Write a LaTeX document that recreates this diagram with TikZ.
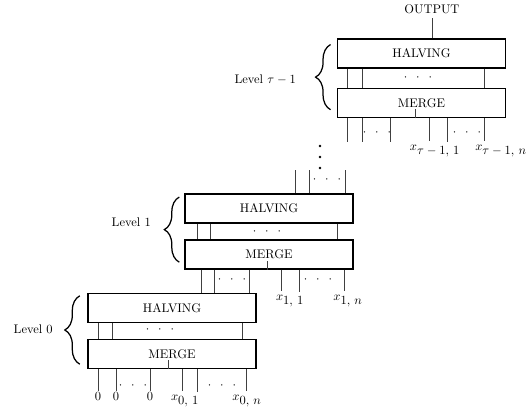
\documentclass[tikz,border=0pt]{standalone}
\usetikzlibrary{positioning, decorations.pathreplacing}

\newcommand{\sdots}{$\cdotp\hspace{5.5pt}\cdotp\hspace{5.5pt}\cdotp$}
\newcommand{\wsub}[1]{$x_{\textstyle #1}$}

\begin{document}
\begin{tikzpicture}[
    x=0.8pt, y=-0.8pt,
    block/.style={rectangle, draw=black, line width=1.1pt, fill=none,
        minimum width=134.4pt, minimum height=23.2pt, inner sep=0pt,
        text centered, text=black},
    wire/.style={draw=black!75, line width=0.45pt},
    hdots/.style={inner sep=0pt, text=black},
    wirelabel/.style={anchor=north, inner sep=1pt, text height=1.5ex, text depth=0.5ex},
    lvlname/.style={anchor=east, inner sep=0pt, text=black},
    lvlbrace/.style={decorate, decoration={brace, amplitude=12pt}, line width=1pt}
]
\useasboundingbox (0,0) rectangle (530,412);

% Level tau-1
\node (HalvT) [block] at (421.5,53.5) {HALVING};
\node (MergeT) [block, below=15.5pt of HalvT] {MERGE};
\node (Out) at (432,9) {OUTPUT};
\draw[wire] (HalvT.north -| Out) -- (Out.south);
\foreach \wx in {347,362,484}
    \draw[wire] (HalvT.south -| \wx,0) -- (MergeT.north -| \wx,0);
\node (DmT) [hdots] at (418,78) {\sdots};
\draw[wire] (MergeT.south -| 415,0) -- ++(0,-9);
\node (LvlT) [lvlname] at (296,80) {Level $\tau - 1$};
\draw[lvlbrace] ([xshift=-5pt, yshift=7pt]MergeT.south west)
    -- ([xshift=-5pt, yshift=-5pt]HalvT.north west);
% outputs of level tau-1
\coordinate (EndT) at (0,142);
\node (XT1) [wirelabel] at (435,141) {\wsub{\tau-1,\,1}};
\node (XTn) [wirelabel] at (501,141) {\wsub{\tau-1,\,n}};
\foreach \wx in {347,362,390,447}
    \draw[wire] (MergeT.south -| \wx,0) -- (EndT -| \wx,0);
\draw[wire] (MergeT.south -| 429,0) -- (XT1.north -| 429,0);
\draw[wire] (MergeT.south -| 484,0) -- (XTn.north -| 484,0);
\node (DoT1) [hdots] at (377,133) {\sdots};
\node (DoT2) [hdots] at (467,133) {\sdots};

% vertical dots
\foreach \vy in {146,157,168}
    \fill (320,\vy) circle [radius=1.1pt];

% Level 1
\node (Halv1) [block] at (269,208.5) {HALVING};
\node (Merge1) [block, below=12.5pt of Halv1] {MERGE};
\coordinate (Top1) at (0,170);
\foreach \wx in {295,309,345}
    \draw[wire] (Top1 -| \wx,0) -- (Halv1.north -| \wx,0);
\node (Di1) [hdots] at (327,180) {\sdots};
\foreach \wx in {197,210,337}
    \draw[wire] (Halv1.south -| \wx,0) -- (Merge1.north -| \wx,0);
\node (Dm1) [hdots] at (267,232) {\sdots};
\draw[wire] (Merge1.south -| 267,0) -- ++(0,-9);
\node (Lvl1) [lvlname] at (151,222) {Level 1};
\draw[lvlbrace] ([xshift=-4pt, yshift=6pt]Merge1.south west)
    -- ([xshift=-4pt, yshift=-3pt]Halv1.north west);

% Level 0
\node (Halv0) [block] at (172,308) {HALVING};
\node (Merge0) [block, below=12.5pt of Halv0] {MERGE};
% outputs of level 1
\coordinate (End1) at (0,292);
\node (X11) [wirelabel] at (290,291) {\wsub{1,\,1}};
\node (X1n) [wirelabel] at (348,291) {\wsub{1,\,n}};
\foreach \wx in {201,214,249}
    \draw[wire] (Merge1.south -| \wx,0) -- (Halv0.north -| \wx,0);
\draw[wire] (Merge1.south -| 281,0) -- (X11.north -| 281,0);
\draw[wire] (Merge1.south -| 299,0) -- (End1 -| 299,0);
\draw[wire] (Merge1.south -| 344,0) -- (X1n.north -| 344,0);
\node (Do11) [hdots] at (232,280) {\sdots};
\node (Do12) [hdots] at (318,280) {\sdots};
\foreach \wx in {98,112,242}
    \draw[wire] (Halv0.south -| \wx,0) -- (Merge0.north -| \wx,0);
\node (Dm0) [hdots] at (160,330) {\sdots};
\draw[wire] (Merge0.south -| 168,0) -- ++(0,-9);
\node (Lvl0) [lvlname] at (53,329) {Level 0};
\draw[lvlbrace] ([xshift=-6pt, yshift=4pt]Merge0.south west)
    -- ([xshift=-6pt, yshift=-2.4pt]Halv0.north west);
% outputs of level 0
\coordinate (End0) at (0,392);
\node (Z1) [wirelabel] at (98,391) {$0$};
\node (Z2) [wirelabel] at (116,391) {$0$};
\node (Z3) [wirelabel] at (150,391) {$0$};
\node (X01) [wirelabel] at (185,391) {\wsub{0,\,1}};
\node (X0n) [wirelabel] at (247,391) {\wsub{0,\,n}};
\foreach \zn in {Z1,Z2,Z3}
    \draw[wire] (Merge0.south -| \zn.north) -- (\zn.north);
\draw[wire] (Merge0.south -| 182,0) -- (X01.north -| 182,0);
\draw[wire] (Merge0.south -| 197,0) -- (End0 -| 197,0);
\draw[wire] (Merge0.south -| 246,0) -- (X0n.north -| 246,0);
\node (Do01) [hdots] at (133,386) {\sdots};
\node (Do02) [hdots] at (222,386) {\sdots};

\end{tikzpicture}
\end{document}
